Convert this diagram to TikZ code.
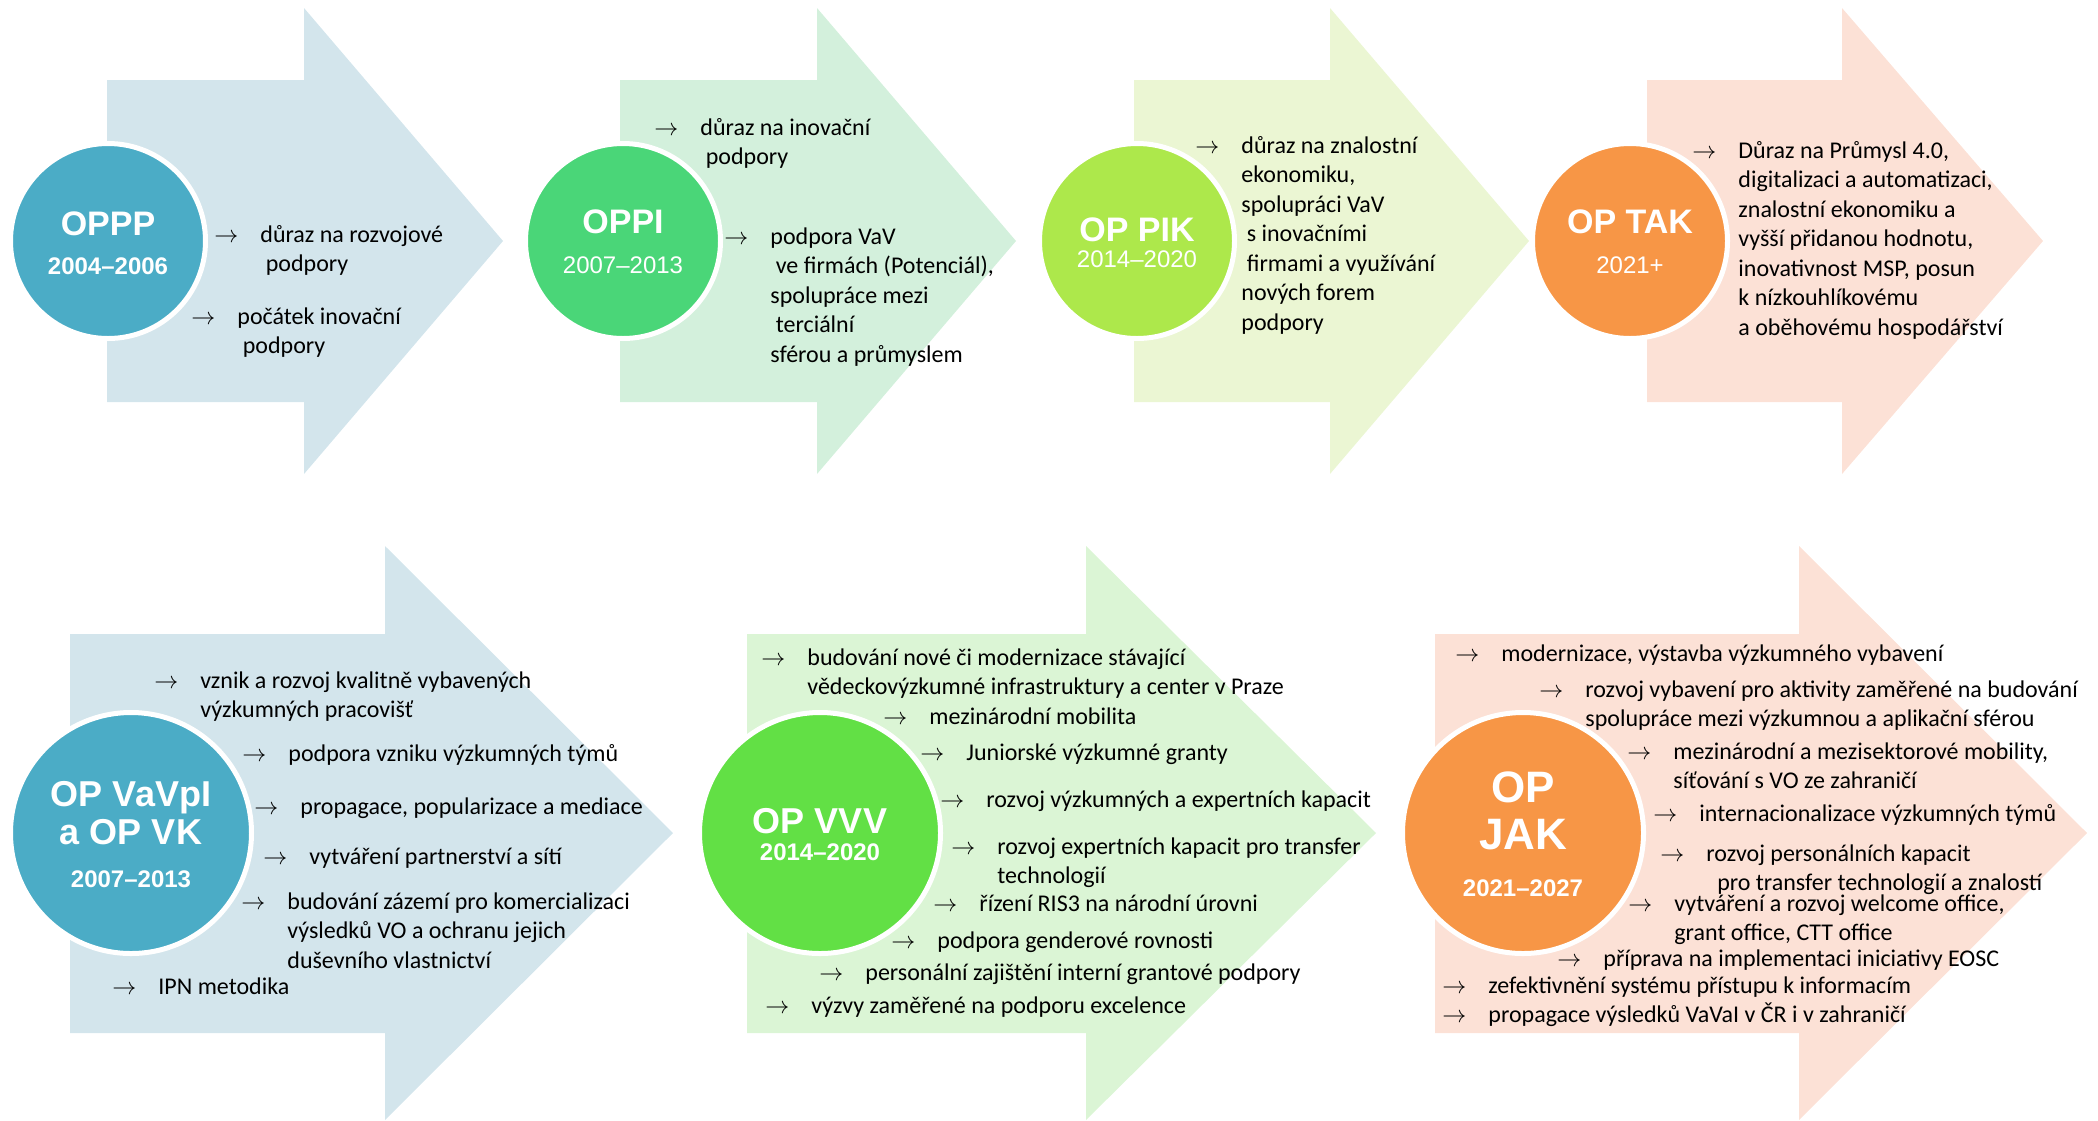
\documentclass[tikz,border=0pt]{standalone}
\usepackage{fontspec}
\setmainfont{Carlito}
\newfontfamily\arialf{Liberation Sans}
\definecolor{blueA}{RGB}{211,229,236}
\definecolor{blueC}{RGB}{75,172,198}
\definecolor{greenA}{RGB}{211,240,220}
\definecolor{greenC}{RGB}{74,214,120}
\definecolor{limeA}{RGB}{235,246,211}
\definecolor{limeC}{RGB}{173,232,75}
\definecolor{orangeA}{RGB}{252,225,214}
\definecolor{orangeC}{RGB}{247,150,70}
\definecolor{vvvA}{RGB}{219,245,213}
\definecolor{vvvC}{RGB}{98,224,69}
% arrow + left aligned lines
\newcommand\itm[1]{\makebox[23pt][l]{$\rightarrow$}\vtop{\halign{##\hfil\cr#1\crcr}}}
\begin{document}
\begin{tikzpicture}[x=0.5pt,y=-0.5pt, line join=round,
	disc/.style={circle, draw=white, line width=2.5pt, inner sep=0pt, fill=#1},
	ttl/.style={anchor=base, text=white, font=\arialf\bfseries\fontsize{17}{20}\selectfont},
	yr/.style={anchor=base, text=white, font=\arialf\fontsize{12}{14}\selectfont},
	bul/.style={anchor=base west, inner sep=0pt, font=\fontsize{12}{14.75}\selectfont}]
	\useasboundingbox (0,0) rectangle (2098,1120);
	% top row
	\fill[blueA] (107,80)--(304,80)--(304,8)--(503,241)--(304,474)--(304,402)--(107,402)--cycle;
	\fill[greenA] (620,80)--(817,80)--(817,8)--(1016,241)--(817,474)--(817,402)--(620,402)--cycle;
	\fill[limeA] (1134,80)--(1330,80)--(1330,8)--(1529,241)--(1330,474)--(1330,402)--(1134,402)--cycle;
	\fill[orangeA] (1647,80)--(1842,80)--(1842,8)--(2043,241)--(1842,474)--(1842,402)--(1647,402)--cycle;
	% bottom row
	\fill[blueA] (70,634)--(385,634)--(385,546)--(673,833)--(385,1120)--(385,1033)--(70,1033)--cycle;
	\fill[vvvA] (747,634)--(1086,634)--(1086,546)--(1376,833)--(1086,1120)--(1086,1033)--(747,1033)--cycle;
	\fill[orangeA] (1435,634)--(1799,634)--(1799,546)--(2087,833)--(1799,1120)--(1799,1033)--(1435,1033)--cycle;
	
	\node[disc=blueC, minimum size=97.5pt] (c1) at (108,241) {};
	\node[disc=greenC, minimum size=97.5pt] (c2) at (623,241) {};
	\node[disc=limeC, minimum size=97.5pt] (c3) at (1137,241) {};
	\node[disc=orangeC, minimum size=97.5pt] (c4) at (1630,241) {};
	\node[disc=blueC, minimum size=120.5pt] (c5) at (131,833) {};
	\node[disc=vvvC, minimum size=120.5pt] (c6) at (820,833) {};
	\node[disc=orangeC, minimum size=120.5pt] (c7) at (1523,833) {};
	
	\node[ttl] (t1) at (108,235) {OPPP};
	\node[yr] (y1) at (108,274) {\bfseries 2004–2006};
	\node[ttl] (t2) at (623,233) {OPPI};
	\node[yr] (y2) at (623,273) {2007–2013};
	\node[ttl] (t3) at (1137,241) {OP PIK};
	\node[yr] (y3) at (1137,267) {2014–2020};
	\node[ttl] (t4) at (1630,233) {OP TAK};
	\node[yr] (y4) at (1630,273) {2021+};
	\node[ttl, font=\arialf\bfseries\fontsize{18}{20}\selectfont] (t5a) at (131,806) {OP VaVpI};
	\node[ttl, font=\arialf\bfseries\fontsize{18}{20}\selectfont] (t5b) at (131,844) {a OP VK};
	\node[yr] (y5) at (131,887) {\bfseries 2007–2013};
	\node[ttl, font=\arialf\bfseries\fontsize{18}{20}\selectfont] (t6) at (820,833) {OP VVV};
	\node[yr] (y6) at (820,860) {\bfseries 2014–2020};
	\node[ttl, font=\arialf\bfseries\fontsize{22}{24}\selectfont] (t7a) at (1523,802) {OP};
	\node[ttl, font=\arialf\bfseries\fontsize{22}{24}\selectfont] (t7b) at (1523,849) {JAK};
	\node[yr] (y7) at (1523,896) {\bfseries 2021–2027};
	
	% OPPP
	\node[bul] (p1a) at (214,242) {\itm{důraz na rozvojové\cr\ podpory}};
	\node[bul] (p1b) at (191,324) {\itm{počátek inovační\cr\ podpory}};
	% OPPI
	\node[bul] (p2a) at (654,135) {\itm{důraz na inovační\cr\ podpory}};
	\node[bul] (p2b) at (724,244) {\itm{podpora VaV\cr\ ve firmách (Potenciál),\cr spolupráce mezi\cr\ terciální\cr sférou a průmyslem}};
	% OP PIK
	\node[bul] (p3a) at (1195,153) {\itm{důraz na znalostní\cr ekonomiku,\cr spolupráci VaV\cr\ s inovačními\cr\ firmami a využívání\cr nových forem\cr podpory}};
	% OP TAK
	\node[bul] (p4a) at (1692,158) {\itm{Důraz na Průmysl 4.0,\cr digitalizaci a automatizaci,\cr znalostní ekonomiku a\cr vyšší přidanou hodnotu,\cr inovativnost MSP, posun\cr k nízkouhlíkovému\cr a oběhovému hospodářství}};
	% OP VaVpI a OP VK
	\node[bul] (p5a) at (154,688) {\itm{vznik a rozvoj kvalitně vybavených\cr výzkumných pracovišť}};
	\node[bul] (p5b) at (242,761) {\itm{podpora vzniku výzkumných týmů}};
	\node[bul] (p5c) at (254,814) {\itm{propagace, popularizace a mediace}};
	\node[bul] (p5d) at (263,864) {\itm{vytváření partnerství a sítí}};
	\node[bul] (p5e) at (241,909) {\itm{budování zázemí pro komercializaci\cr výsledků VO a ochranu jejich\cr duševního vlastnictví}};
	\node[bul] (p5f) at (112,994) {\itm{IPN metodika}};
	% OP VVV
	\node[bul] (p6a) at (761,665) {\itm{budování nové či modernizace stávající\cr vědeckovýzkumné infrastruktury a center v Praze}};
	\node[bul] (p6b) at (883,724) {\itm{mezinárodní mobilita}};
	\node[bul] (p6c) at (920,760) {\itm{Juniorské výzkumné granty}};
	\node[bul] (p6d) at (940,807) {\itm{rozvoj výzkumných a expertních kapacit}};
	\node[bul] (p6e) at (951,854) {\itm{rozvoj expertních kapacit pro transfer\cr technologií}};
	\node[bul] (p6f) at (933,911) {\itm{řízení RIS3 na národní úrovni}};
	\node[bul] (p6g) at (891,948) {\itm{podpora genderové rovnosti}};
	\node[bul] (p6h) at (819,980) {\itm{personální zajištění interní grantové podpory}};
	\node[bul] (p6i) at (765,1013) {\itm{výzvy zaměřené na podporu excelence}};
	% OP JAK
	\node[bul] (p7a) at (1455,661) {\itm{modernizace, výstavba výzkumného vybavení}};
	\node[bul] (p7b) at (1539,697) {\itm{rozvoj vybavení pro aktivity zaměřené na budování\cr spolupráce mezi výzkumnou a aplikační sférou}};
	\node[bul] (p7c) at (1627,759) {\itm{mezinárodní a mezisektorové mobility,\cr síťování s VO ze zahraničí}};
	\node[bul] (p7d) at (1653,821) {\itm{internacionalizace výzkumných týmů}};
	\node[bul] (p7e) at (1660,861) {\itm{rozvoj personálních kapacit\cr\ \ pro transfer technologií a znalostí}};
	\node[bul] (p7f) at (1628,911) {\itm{vytváření a rozvoj welcome office,\cr grant office, CTT office}};
	\node[bul] (p7g) at (1557,966) {\itm{příprava na implementaci iniciativy EOSC}};
	\node[bul] (p7h) at (1442,993) {\itm{zefektivnění systému přístupu k informacím}};
	\node[bul] (p7i) at (1442,1022) {\itm{propagace výsledků VaVaI v ČR i v zahraničí}};
\end{tikzpicture}
\end{document}
